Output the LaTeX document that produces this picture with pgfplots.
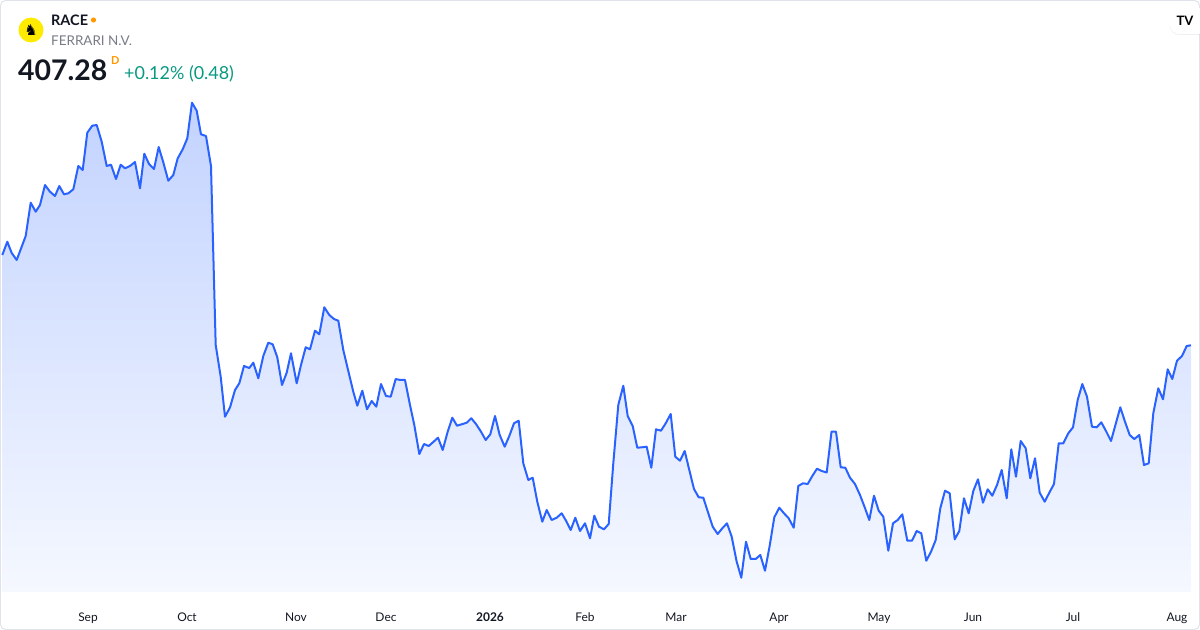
\documentclass[border=0pt]{standalone}
\usepackage{pgfplots}
\pgfplotsset{compat=1.18}
\usepackage{pgfplotstable}
\usepackage{fontspec}
\setmainfont{Lato}
\newfontfamily\dejavu{DejaVu Sans}
\usetikzlibrary{shadows}
\definecolor{tvblue}{HTML}{2962FF}
\definecolor{fillTop}{RGB}{195,211,255}
\definecolor{fillBot}{RGB}{245,248,255}
\definecolor{tvgray}{HTML}{787B86}
\definecolor{tvgreen}{HTML}{089981}
\definecolor{tvorange}{HTML}{FF9800}
\definecolor{tvtext}{HTML}{131722}
\definecolor{tvborder}{HTML}{E0E3EB}
\definecolor{ferrari}{HTML}{FFEB00}
\pgfplotstableread{
px py
2.3 255
7.3 241.7
11.7 253
16.7 260
21.7 246.7
25.7 236
30.7 202.7
35.7 211.7
40 205
45 185
50 191.7
55 196
59.3 186
64 194.3
68.3 193.3
73.3 189.3
78.3 166
82.7 170
87.3 132.7
92.3 125.7
96.7 125
101.7 141.7
106.7 166
111 164.7
116 179
120.7 164.7
125 168.3
130 166
135 162
140 188.3
144.3 153.7
149 164
154 169
158.7 147
163.3 162.3
168.3 180.7
173.3 175
177.7 158.3
182.7 149.3
187.3 138.3
192 102.7
196.7 110.7
201 134.3
206 136
211 166
215.7 345
220.7 376.7
225 416.7
230 407.5
235 390
239.3 383.3
244 366
249.3 368
253.3 362.7
258.3 378.3
263.3 356
268.3 342.7
272.7 344.3
277.3 357.3
282 385
286.7 372.7
291 353.3
296.7 383.3
301 365
305.7 347.3
310 349.3
315 330.7
319.3 334.3
324.3 307.3
329.3 315
334 319
338.3 320.7
343.3 350
348.3 371
353.3 391.7
357.3 405.7
362.3 390.7
367 409.3
371.7 401
376.3 406.7
381 384
386 396
390.7 396.7
395.7 379
400.3 380
405 380
410 405
414.3 425
419.3 454
424 444
428.7 446
433.3 442
438 437.7
442.7 450
447.7 431.7
452.3 417.7
457 425.7
461.7 424.3
466.7 422.7
471.3 418.3
476 424
481 431.7
485.7 440
490.3 434.3
495 416
499.7 435
504.7 446.7
509.3 436
514 423.3
518.7 420.7
523.3 463.3
528.3 480
532.7 477.7
537.3 501.7
542.3 521.7
546.7 510
551.7 520
556.7 517.7
561.7 513.3
566 520.7
570.7 530
575.3 517.7
580 531
585 523.3
590 538.3
594.3 515.7
599 526.7
604 529.3
608.7 524
613.3 463.3
618.3 405
623.3 385.7
627.7 416
632.7 426
637.3 447.7
642 447.3
646.7 446.7
651.3 467.7
656 429.3
661 430.7
665.7 423.3
670.7 414
675.3 456.7
680 460.7
684.7 451
689.3 470
694 489
698.7 497.3
703.3 497.7
708 512.3
712.7 526.7
717.7 534
722.3 528.3
727 523.3
731.7 536.7
736.7 561.7
741.3 577.7
746 541.7
750.7 559
755.7 559
760.3 555
765 570.7
769.7 545.7
774.3 517.3
779.3 507.7
784 513.3
788.7 518.3
793.7 527.7
798.3 486
803 483.3
807.7 484
812.3 476
817 468.7
821.7 471
826.7 472.5
831.5 431.7
836 431.7
840.7 467.3
845.3 467.7
850 477.7
855 484
860 495
864.7 507.3
869.3 520
874 495.7
878.7 510.7
883.3 516.7
888.3 550.7
893 523.3
897.7 520
902.3 514.3
907.3 540.7
912 540.7
916.7 531
921.3 533.3
926.3 560.7
931 551.7
935.7 540
940.3 508.3
945 490.7
949.7 493.3
954.7 539.3
959.3 531
964 498.3
968.7 513.3
973.3 491
978 479.3
983 502.7
987.7 489.3
992.3 495.7
997 485
1001.7 470
1006.7 498.3
1011.3 449.3
1016 476.7
1020.7 441
1025.7 448.3
1030.3 478.3
1035 458.3
1039.7 492.7
1044.7 501.7
1049.3 492.7
1054 484
1058.7 443.3
1063.3 443.3
1068.3 433.3
1073 427.3
1077.7 400
1082.3 384
1087 396.7
1092 426.7
1096.7 427.3
1101.3 422.3
1106 431
1111 441
1115.7 424
1120.3 407.3
1125 421.7
1129.7 435
1134.3 439
1139.3 435
1144 465
1148.7 463.3
1153.3 413.3
1158.3 388.3
1163 399.3
1167.7 369.3
1172.3 379
1177 360.7
1182 356
1186.7 346
1191 345.3
}\prices
\begin{document}
\begin{tikzpicture}
\begin{axis}[
  scale only axis, width=1200bp, height=630bp,
  xmin=0, xmax=1200, ymin=-38, ymax=592,
  axis line style={draw=none},
  major tick length=0pt,
  ytick=\empty,
  xtick={88,187,296,386,490,585,676,779,879,973,1073,1177},
  xticklabels={Sep,Oct,Nov,Dec,\textbf{2026},Feb,Mar,Apr,May,Jun,Jul,Aug},
  xticklabel style={anchor=base, yshift=8.5bp, font=\fontsize{12}{14}\selectfont, text=tvtext, inner sep=0pt},
  clip=false,
]
\draw[tvborder, line width=1bp, rounded corners=5bp] (axis cs:0.5,-37.5) rectangle (axis cs:1199.5,591.5);
\addplot[draw=none, top color=fillTop, bottom color=fillBot] table[x=px, y expr=592-\thisrow{py}] {\prices} \closedcycle;
\addplot[tvblue, line width=2bp, line join=round, no marks] table[x=px, y expr=592-\thisrow{py}] {\prices};
% header
\fill[ferrari] (axis cs:31,562) circle[radius=12.5bp];
\node[inner sep=0pt, font=\dejavu\fontsize{15}{15}\selectfont] at (axis cs:31,562) {♞};
\node[anchor=base west, inner sep=0pt, text=tvtext, font=\bfseries\fontsize{14.5}{16}\selectfont] at (axis cs:51,566) {RACE};
\fill[tvorange] (axis cs:93.5,572) circle[radius=2.6bp];
\node[anchor=base west, inner sep=0pt, text=tvgray, font=\fontsize{13.5}{16}\selectfont] at (axis cs:51,546) {FERRARI N.V.};
\node[anchor=base west, inner sep=0pt, text=tvtext, font=\bfseries\fontsize{28.5}{30}\selectfont] at (axis cs:18,511) {407.28};
\node[anchor=base west, inner sep=0pt, text=tvorange, font=\bfseries\fontsize{11}{12}\selectfont] at (axis cs:111,527) {D};
\node[anchor=base west, inner sep=0pt, text=tvgreen, font=\fontsize{18}{20}\selectfont] at (axis cs:124,512) {+0.12\% (0.48)};
% logo
\node[fill=white, rounded corners=9bp, minimum width=44bp, minimum height=26bp, drop shadow={opacity=0.12, shadow xshift=0bp, shadow yshift=-1bp}] at (axis cs:1192,571) {};
\node[inner sep=0pt, text=black, font=\bfseries\fontsize{13}{14}\selectfont] at (axis cs:1185,571) {TV};
\end{axis}
\pgfresetboundingbox
\path[use as bounding box] (0,0) rectangle (1200bp,630bp);
\end{tikzpicture}
\end{document}
